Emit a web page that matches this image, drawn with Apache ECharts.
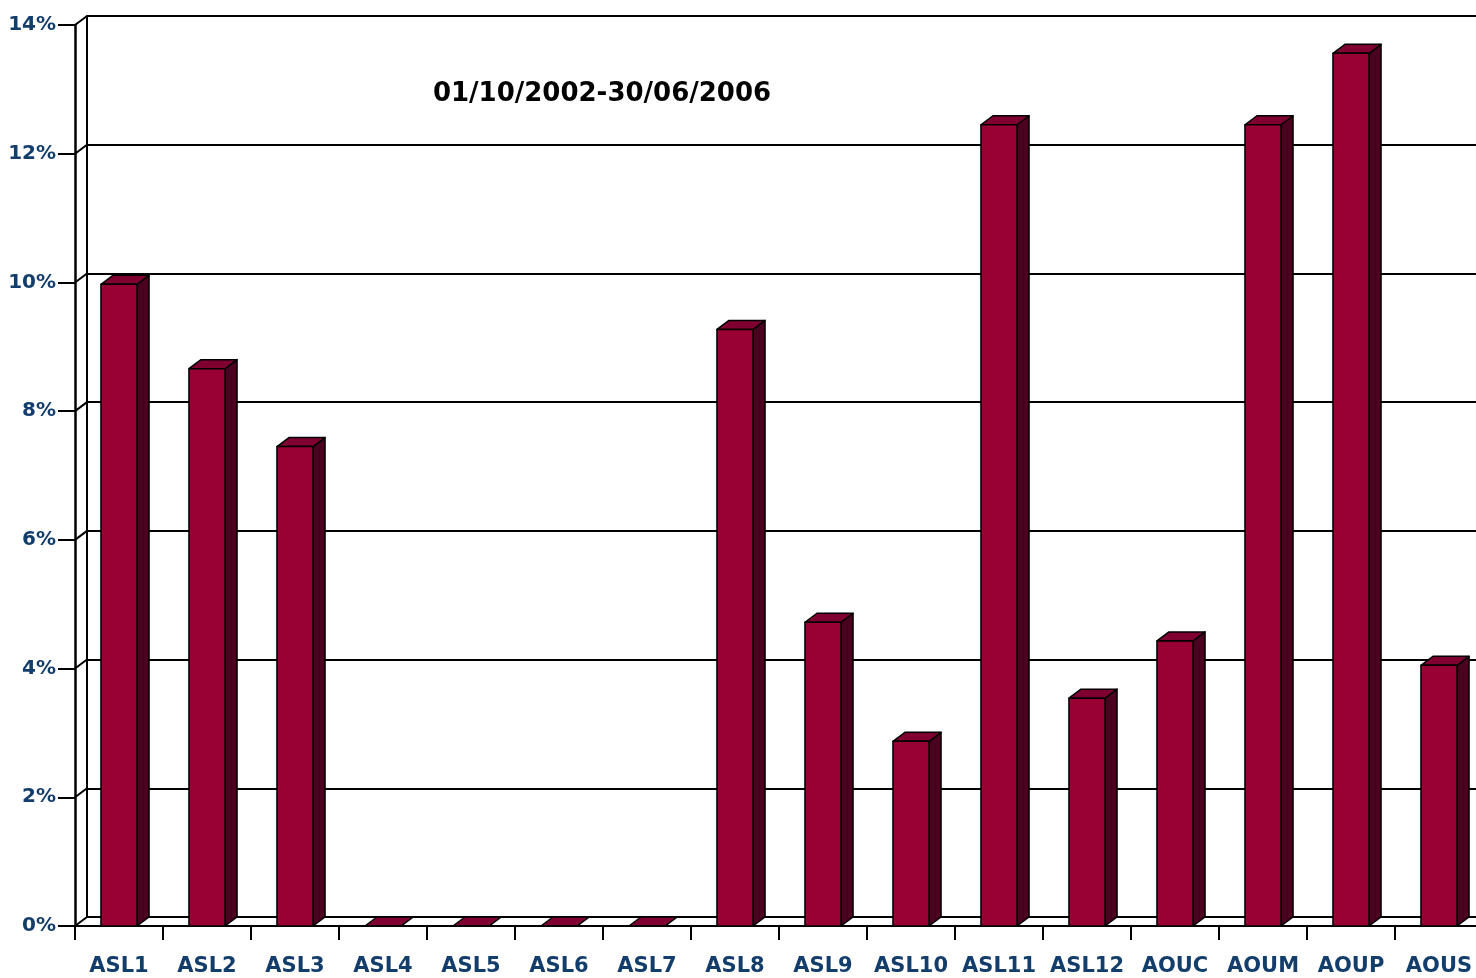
<!DOCTYPE html>
<html>
<head>
<meta charset="utf-8">
<script src="https://cdn.jsdelivr.net/npm/echarts@6/dist/echarts.min.js"></script>
<style>
html,body{margin:0;padding:0;background:#fff;overflow:hidden;}
#chart{width:1476px;height:978px;}
</style>
</head>
<body>
<div id="chart"></div>
<script>
var categories = ['ASL1','ASL2','ASL3','ASL4','ASL5','ASL6','ASL7','ASL8','ASL9','ASL10','ASL11','ASL12','AOUC','AOUM','AOUP','AOUS'];
var shares = [9.97, 8.66, 7.45, 0, 0, 0, 0, 9.27, 4.72, 2.87, 12.45, 3.54, 4.43, 12.45, 13.56, 4.05];
var yTicks = [0, 2, 4, 6, 8, 10, 12, 14];
var periodLabel = '01/10/2002-30/06/2006';

var DX = 12, DY = 9;
var labelColor = '#133d6b';
var fontFam = '"DejaVu Sans", sans-serif';

var chart = echarts.init(document.getElementById('chart'));

function renderBar(params, api) {
	var i = api.value(0);
	var v = api.value(1);
	var top = api.coord([i, v]);
	var base = api.coord([i, 0]);
	var bw = api.size([1, 0])[0];
	var w = bw * 0.41;
	var x0 = top[0] - w / 2, x1 = top[0] + w / 2;
	var yt = top[1], yb = base[1];
	var edge = {stroke: '#000', lineWidth: 1.5, lineJoin: 'round'};
	return {
		type: 'group',
		children: [
			{type: 'polygon', shape: {points: [[x1, yt], [x1 + DX, yt - DY], [x1 + DX, yb - DY], [x1, yb]]},
				style: Object.assign({fill: '#4c0020'}, edge)},
			{type: 'polygon', shape: {points: [[x0, yt], [x0 + DX, yt - DY], [x1 + DX, yt - DY], [x1, yt]]},
				style: Object.assign({fill: '#7f0030'}, edge)},
			{type: 'rect', shape: {x: x0, y: yt, width: w, height: yb - yt},
				style: Object.assign({fill: '#990033'}, edge)}
		]
	};
}

function renderWall(params, api) {
	var p = api.coord([0, api.value(1)]);
	var bw = api.size([1, 0])[0];
	var x = p[0] - bw / 2;
	return {
		type: 'line',
		shape: {x1: x, y1: p[1], x2: x + DX, y2: p[1] - DY},
		style: {stroke: '#000', lineWidth: 2}
	};
}

var option = {
	animation: false,
	backgroundColor: '#fff',
	title: {
		text: periodLabel,
		left: 597,
		top: 76,
		textAlign: 'center',
		textStyle: {fontFamily: fontFam, fontWeight: 'bold', fontSize: 26, color: '#000'}
	},
	grid: [
		{left: 75, width: 1408, top: 25, bottom: 52, outerBoundsMode: 'none', containLabel: false},
		{left: 75 + DX, width: 1408, top: 25 - DY, bottom: 52 + DY, outerBoundsMode: 'none', containLabel: false}
	],
	xAxis: [
		{
			type: 'category', gridIndex: 0, data: categories,
			axisLine: {lineStyle: {color: '#000', width: 2}},
			axisTick: {show: true, length: 14, lineStyle: {color: '#000', width: 2}},
			axisLabel: {color: labelColor, fontFamily: fontFam, fontWeight: 'bold', fontSize: 21, margin: 30, interval: 0}
		},
		{
			type: 'category', gridIndex: 1, data: categories,
			axisLine: {lineStyle: {color: '#000', width: 2}},
			axisTick: {show: false}, axisLabel: {show: false}
		}
	],
	yAxis: [
		{
			type: 'value', gridIndex: 0, min: 0, max: 14, interval: 2,
			axisLine: {show: true, lineStyle: {color: '#000', width: 2.5}},
			axisTick: {show: true, length: 17, lineStyle: {color: '#000', width: 2}},
			axisLabel: {formatter: '{value}%', color: labelColor, fontFamily: fontFam, fontWeight: 'bold', fontSize: 20, margin: 19},
			splitLine: {show: false}
		},
		{
			type: 'value', gridIndex: 1, min: 0, max: 14, interval: 2,
			axisLine: {show: true, lineStyle: {color: '#000', width: 2}},
			axisTick: {show: false}, axisLabel: {show: false},
			splitLine: {show: true, lineStyle: {color: '#000', width: 2}}
		}
	],
	series: [
		{
			type: 'custom', xAxisIndex: 0, yAxisIndex: 0, z: 1,
			renderItem: renderWall,
			data: yTicks.map(function (t) { return [0, t]; })
		},
		{
			type: 'custom', xAxisIndex: 0, yAxisIndex: 0, z: 3,
			renderItem: renderBar,
			encode: {x: 0, y: 1},
			data: shares.map(function (v, i) { return [i, v]; })
		}
	]
};

chart.setOption(option);
</script>
</body>
</html>
